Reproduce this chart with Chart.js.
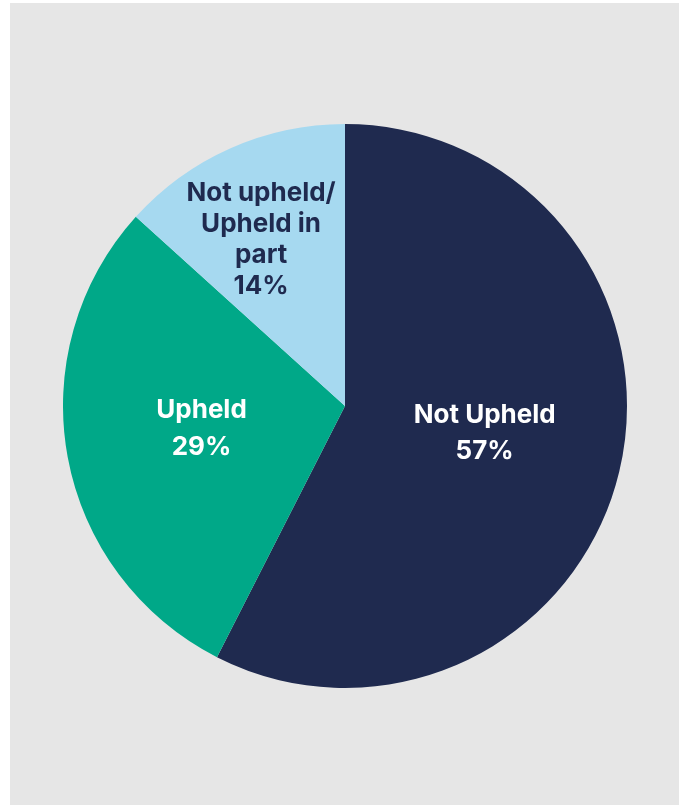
<!DOCTYPE html>
<html>
<head>
<meta charset="utf-8">
<script src="https://cdn.jsdelivr.net/npm/chart.js@4"></script>
<style>
    html, body { margin: 0; padding: 0; background: #ffffff; }
    body { width: 686px; height: 805px; position: relative; overflow: hidden; }
    .panel { position: absolute; left: 10px; top: 3px; width: 669px; height: 802px; background: #e6e6e6; }
    .chart-box { position: absolute; left: 53px; top: 121px; width: 564px; height: 564px; }
</style>
</head>
<body>
<div class="panel">
    <div class="chart-box"><canvas id="outcome-chart"></canvas></div>
</div>
<script>
// --- Chart data ---
const labels = ['Not Upheld', 'Upheld', 'Not upheld/ Upheld in part'];
const labelLines = [['Not Upheld'], ['Upheld'], ['Not upheld/', 'Upheld in', 'part']];
const shares = [57.5, 29.2, 13.3];          // slice sizes as drawn
const percentLabels = ['57%', '29%', '14%']; // printed values
const sliceColours = ['#1f2a4f', '#00a888', '#a6d9f0'];
const textColours = ['#ffffff', '#ffffff', '#1f2a4f'];

// label radius (fraction of outer radius), angle nudge and line spacing per slice
const labelRadius = [0.505, 0.515, 0.66];
const labelShift = [-0.04, 0.026, -0.05];
const lineGap = [36, 37, 31];

const sliceLabels = {
    id: 'sliceLabels',
    afterDatasetsDraw(chart) {
        const ctx = chart.ctx;
        const meta = chart.getDatasetMeta(0);
        ctx.save();
        ctx.font = '700 26px Inter, "Liberation Sans", sans-serif';
        ctx.textAlign = 'center';
        ctx.textBaseline = 'middle';
        meta.data.forEach((arc, i) => {
            const { x, y, startAngle, endAngle, outerRadius } = arc.getProps(['x', 'y', 'startAngle', 'endAngle', 'outerRadius'], true);
            const mid = (startAngle + endAngle) / 2 + labelShift[i];
            const r = outerRadius * labelRadius[i];
            const cx = x + Math.cos(mid) * r;
            const cy = y + Math.sin(mid) * r;
            const lines = labelLines[i].concat([percentLabels[i]]);
            const top = cy - (lines.length - 1) * lineGap[i] / 2;
            ctx.fillStyle = textColours[i];
            lines.forEach((line, j) => ctx.fillText(line, cx, top + j * lineGap[i]));
        });
        ctx.restore();
    }
};

new Chart(document.getElementById('outcome-chart'), {
    type: 'pie',
    data: {
        labels: labels,
        datasets: [{
            data: shares,
            backgroundColor: sliceColours,
            borderWidth: 0
        }]
    },
    options: {
        responsive: true,
        maintainAspectRatio: false,
        animation: false,
        layout: { padding: 0 },
        plugins: {
            legend: { display: false },
            tooltip: { enabled: false }
        }
    },
    plugins: [sliceLabels]
});
</script>
</body>
</html>
